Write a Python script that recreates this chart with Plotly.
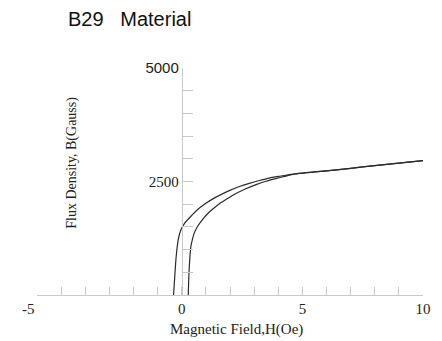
import plotly.graph_objects as go

# Descending (left) branch: H (Oe), B (Gauss)
H_left = [-0.34, -0.28, -0.23, -0.145, -0.03, 0.13, 0.38, 0.66, 1.0, 1.4, 1.97, 2.39, 2.8, 3.22, 3.63,
          4.05, 4.46, 4.88, 5.5, 6.0, 7.0, 8.0, 9.0, 10.0]
B_left = [0, 489, 854, 1221, 1441, 1589, 1734, 1882, 2020, 2150, 2300, 2390, 2460, 2522, 2576,
          2615, 2650, 2680, 2710, 2735, 2790, 2850, 2905, 2960]

# Ascending (right) branch
H_right = [0.27, 0.30, 0.34, 0.38, 0.44, 0.52, 0.66, 0.86, 1.07, 1.35, 1.63, 1.97, 2.25, 2.66, 3.08,
           3.49, 3.9, 4.32, 4.7, 4.88, 5.5, 6.0, 7.0, 8.0, 9.0, 10.0]
B_right = [0, 489, 854, 1074, 1221, 1369, 1514, 1662, 1790, 1920, 2035, 2150, 2235, 2340, 2430,
           2505, 2565, 2620, 2665, 2680, 2710, 2735, 2790, 2850, 2905, 2960]

x_ticks = list(range(-6, 11))
x_labels = {0: "0", 5: "5", 10: "10"}
y_ticks = list(range(0, 5001, 500))
y_labels = {2500: "2500", 5000: "<span style='font-family:Liberation Sans, Arial'>5000</span>"}

fig = go.Figure()
for hx, by in [(H_left, B_left), (H_right, B_right)]:
    fig.add_trace(go.Scatter(x=hx, y=by, mode="lines",
                             line=dict(color="#2a2a2a", width=1.2, shape="spline", smoothing=0.6),
                             showlegend=False, hoverinfo="skip"))

axis_col = "#c8c8c8"
serif = "Liberation Serif, Times New Roman, serif"

fig.update_layout(
    width=434, height=333,
    margin=dict(l=29, r=19, t=60, b=45.5),
    paper_bgcolor="white", plot_bgcolor="white",
    showlegend=False,
    xaxis=dict(range=[-6, 10], showgrid=False, zeroline=False,
               showline=True, linecolor=axis_col, linewidth=1,
               ticks="inside", ticklen=8, tickcolor=axis_col, tickwidth=1,
               tickvals=x_ticks, ticktext=[x_labels.get(v, "") for v in x_ticks],
               tickfont=dict(family=serif, size=15, color="#222222")),
    yaxis=dict(range=[0, 5000], showgrid=False, zeroline=False,
               anchor="free", position=0.375,
               showline=True, linecolor=axis_col, linewidth=1,
               ticks="inside", ticklen=10, tickcolor=axis_col, tickwidth=1,
               tickvals=y_ticks, ticktext=[y_labels.get(v, "") for v in y_ticks],
               tickfont=dict(family=serif, size=15, color="#222222")),
)

fig.add_annotation(text="B29\u00a0\u00a0\u00a0Material", xref="paper", yref="paper",
                   x=(67 - 37) / 386, y=1 + (68 - 18.5) / 227.5, xanchor="left", yanchor="middle",
                   borderpad=0,
                   showarrow=False, font=dict(family="Liberation Sans, Arial", size=20, color="#111111"))
fig.add_annotation(text="Magnetic Field,H(Oe)", xref="paper", yref="paper",
                   x=(236 - 37) / 386, y=(295.5 - 330) / 227.5, xanchor="center", yanchor="middle",
                   showarrow=False, font=dict(family=serif, size=15, color="#222222"))
fig.add_annotation(text="Flux Density, B(Gauss)", xref="paper", yref="paper", textangle=-90,
                   x=(72 - 37) / 386, y=(295.5 - 163) / 227.5, xanchor="center", yanchor="middle",
                   showarrow=False, font=dict(family=serif, size=14, color="#222222"))
fig.add_annotation(text="-5", xref="paper", yref="paper",
                   x=(28 - 37) / 386, y=(295.5 - 310) / 227.5, xanchor="center", yanchor="middle",
                   showarrow=False, font=dict(family=serif, size=15, color="#222222"))

fig.write_html("out.html")
